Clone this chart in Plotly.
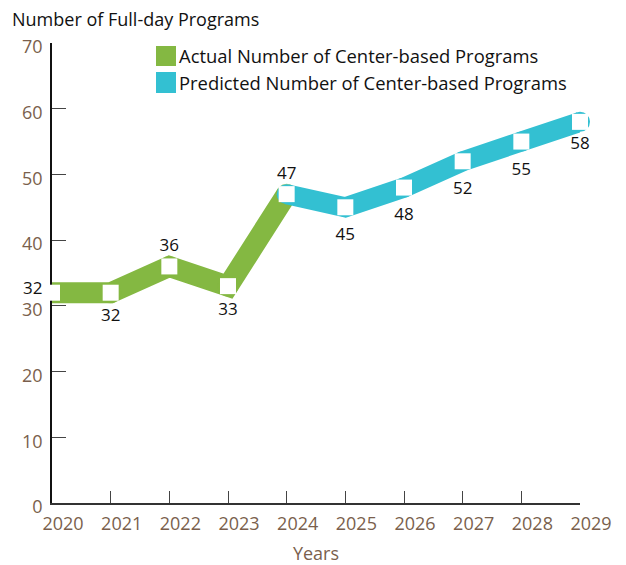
import plotly.graph_objects as go

# ---- data ----
actual_years = [2020, 2021, 2022, 2023, 2024]
actual_values = [32, 32, 36, 33, 47]
predicted_years = [2024, 2025, 2026, 2027, 2028, 2029]
predicted_values = [47, 45, 48, 52, 55, 58]
all_years = actual_years + predicted_years[1:]
all_values = actual_values + predicted_values[1:]
label_positions = ["middle left", "bottom center", "top center", "bottom center", "top center",
                   "bottom center", "bottom center", "bottom center", "bottom center", "bottom center"]
label_gap = [16, 24, 16, 24, 16, 30, 30, 30, 32, 22]
year_ticks = list(range(2020, 2030))
y_ticks = [0, 10, 20, 30, 40, 50, 60, 70]

actual_name = "Actual Number of Center-based Programs"
predicted_name = "Predicted Number of Center-based Programs"

GREEN = "#84B842"
CYAN = "#33C0D2"
BROWN = "#7A5F4D"
FONT = "Open Sans"

fig = go.Figure()

fig.add_trace(go.Scatter(
    x=actual_years, y=actual_values, mode="lines+markers", name=actual_name,
    line=dict(color=GREEN, width=21),
    marker=dict(color=GREEN, size=[0, 21, 21, 21, 21], symbol="circle", line=dict(width=0)),
    cliponaxis=True, showlegend=False, hoverinfo="skip",
))
fig.add_trace(go.Scatter(
    x=predicted_years, y=predicted_values, mode="lines+markers", name=predicted_name,
    line=dict(color=CYAN, width=20),
    marker=dict(color=CYAN, size=20, symbol="circle", line=dict(width=0)),
    cliponaxis=False, showlegend=False, hoverinfo="skip",
))
# white square markers
fig.add_trace(go.Scatter(
    x=all_years, y=all_values, mode="markers",
    marker=dict(color="white", size=16, symbol="square", line=dict(width=0)),
    cliponaxis=False, showlegend=False,
))
# value labels (the first one sits left of the axis, placed as an annotation)
label_text = [str(v) for v in all_values]
fig.add_trace(go.Scatter(
    x=all_years[1:], y=all_values[1:], mode="markers+text",
    marker=dict(color="white", opacity=0, size=label_gap[1:], symbol="square", line=dict(width=0)),
    text=label_text[1:], textposition=label_positions[1:],
    textfont=dict(family=FONT, size=17, color="#111111"),
    cliponaxis=False, showlegend=False, hoverinfo="skip",
))
fig.add_annotation(x=all_years[0], y=all_values[0], xref="x", yref="y", text=label_text[0],
                   showarrow=False, xanchor="right", yanchor="middle", xshift=-8, yshift=5,
                   font=dict(family=FONT, size=17, color="#111111"))

# legend (drawn as swatches + text)
for (yy0, yy1, col, name, ty) in [
    (0.950, 0.9935, GREEN, actual_name, 0.9725),
    (0.8913, 0.937, CYAN, predicted_name, 0.914),
]:
    fig.add_shape(type="rect", xref="paper", yref="paper", x0=0.197, x1=0.2348, y0=yy0, y1=yy1,
                  fillcolor=col, line=dict(width=0))
    fig.add_annotation(xref="paper", yref="paper", x=0.236, y=ty, text=name, showarrow=False,
                       xanchor="left", yanchor="middle",
                       font=dict(family=FONT, size=18.4, color="#111111"))

# the page body adds an 8px offset, so the figure is 8px smaller than the window
W, H = 618, 557
fig.update_layout(
    width=W, height=H,
    margin=dict(l=44, r=46, t=35, b=62, autoexpand=False),
    plot_bgcolor="white", paper_bgcolor="white",
    font=dict(family=FONT),
    title=dict(text="Number of Full-day Programs", xref="container", yref="container",
               x=4 / W, xanchor="left", y=1 - 12 / H, yanchor="middle",
               font=dict(family=FONT, size=18, color="#111111")),
    xaxis=dict(range=[2020, 2029], tickvals=year_ticks, ticktext=[str(y) for y in year_ticks],
               showgrid=False, zeroline=False, showline=True, linecolor="#333333", linewidth=1.5,
               ticks="inside", ticklen=12, tickcolor="#444444", tickwidth=1.3,
               tickfont=dict(family=FONT, size=18, color=BROWN), ticklabelshift=11,
               ticklabelstandoff=4,
               title=dict(text="Years", font=dict(family=FONT, size=18, color=BROWN), standoff=16),
               layer="below traces", automargin=False),
    yaxis=dict(range=[0, 70], tickvals=y_ticks, showgrid=False, zeroline=False,
               showline=True, linecolor="#111111", linewidth=1.5,
               ticks="inside", ticklen=14, tickcolor="#444444", tickwidth=1.3,
               tickfont=dict(family=FONT, size=18, color=BROWN), ticklabelshift=4,
               ticklabelstandoff=4, layer="below traces", automargin=False),
)

fig.write_html("out.html")
